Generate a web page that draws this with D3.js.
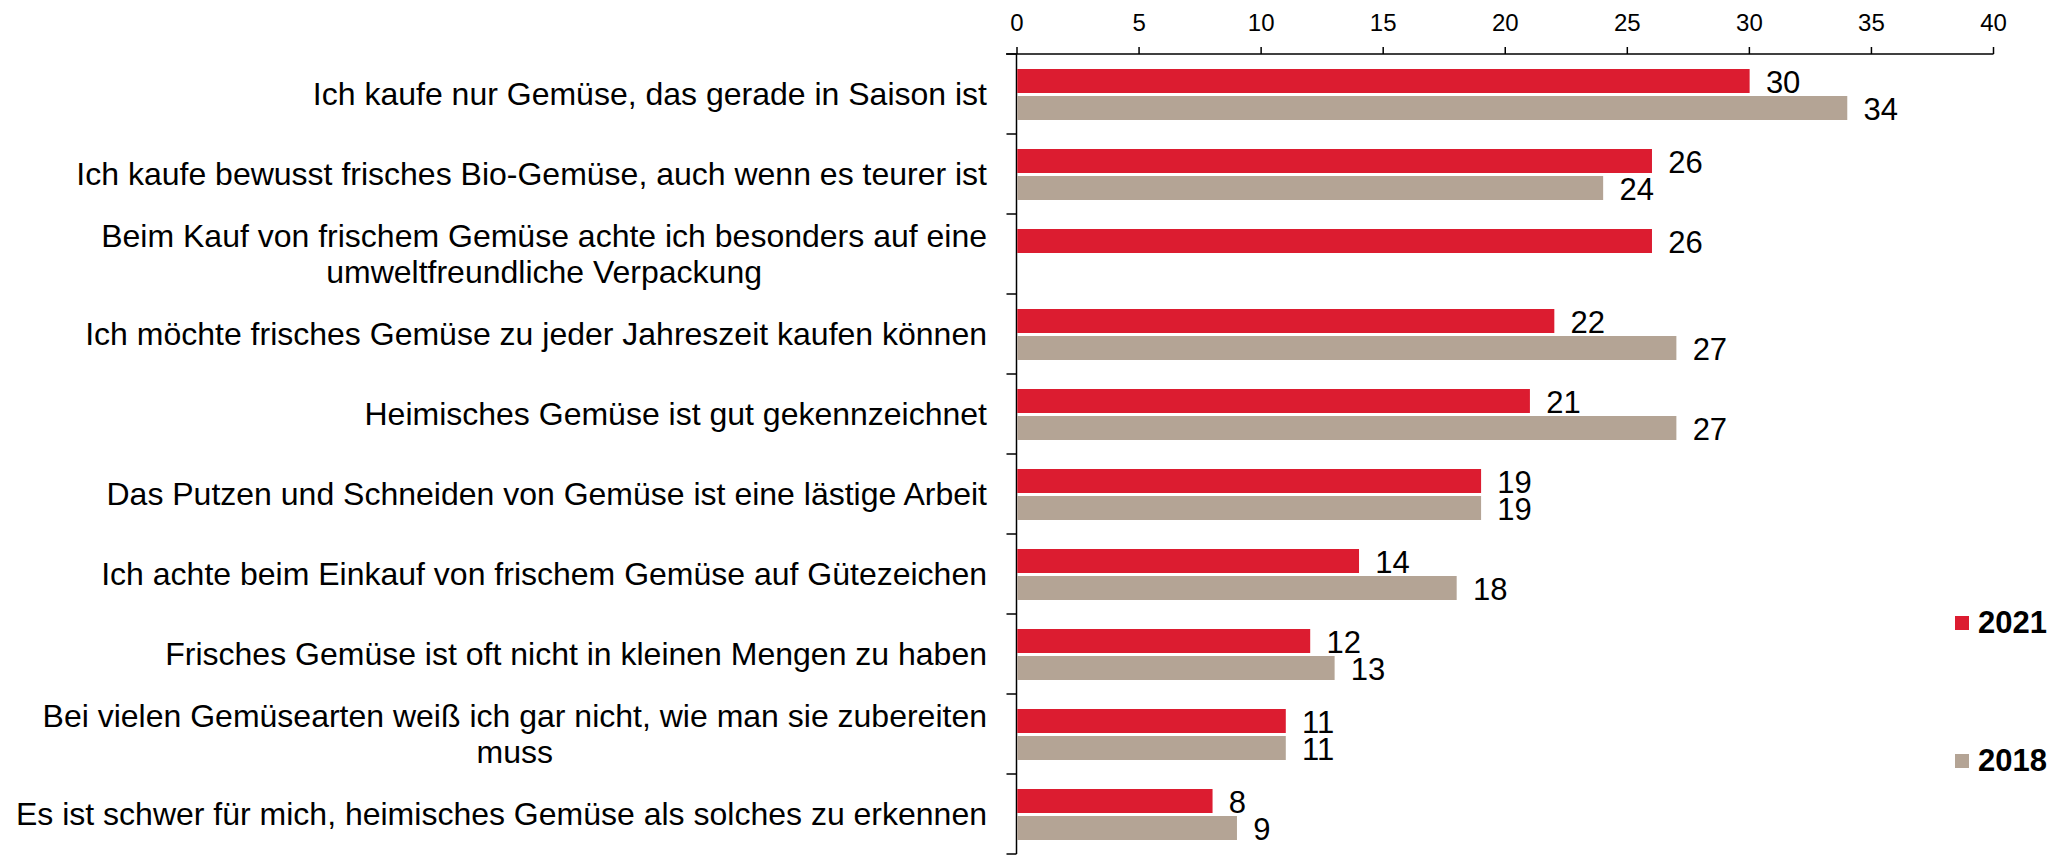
<!DOCTYPE html>
<html>
<head>
<meta charset="utf-8">
<script src="https://cdn.jsdelivr.net/npm/d3@7"></script>
<style>
  body { margin: 0; background: #fff; }
  svg { display: block; font-family: "Liberation Sans", Arial, sans-serif; }
</style>
</head>
<body>
<svg></svg>
<script>
const width = 2055;
const height = 856;

// data
const categories = [
    "Ich kaufe nur Gemüse, das gerade in Saison ist",
    "Ich kaufe bewusst frisches Bio-Gemüse, auch wenn es teurer ist",
    "Beim Kauf von frischem Gemüse achte ich besonders auf eine\numweltfreundliche Verpackung",
    "Ich möchte frisches Gemüse zu jeder Jahreszeit kaufen können",
    "Heimisches Gemüse ist gut gekennzeichnet",
    "Das Putzen und Schneiden von Gemüse ist eine lästige Arbeit",
    "Ich achte beim Einkauf von frischem Gemüse auf Gütezeichen",
    "Frisches Gemüse ist oft nicht in kleinen Mengen zu haben",
    "Bei vielen Gemüsearten weiß ich gar nicht, wie man sie zubereiten\nmuss",
    "Es ist schwer für mich, heimisches Gemüse als solches zu erkennen"
];
const values2021 = [30, 26, 26, 22, 21, 19, 14, 12, 11, 8];
const values2018 = [34, 24, null, 27, 27, 19, 18, 13, 11, 9];
const xTicks = [0, 5, 10, 15, 20, 25, 30, 35, 40];
const seriesNames = ["2021", "2018"];

const red = "#dc1c30";
const grey = "#b4a495";

const svg = d3.select("svg")
    .attr("width", width)
    .attr("height", height);

const x = d3.scaleLinear()
    .domain([0, 40])
    .range([1016.5, 1993]);

const y = d3.scaleBand()
    .domain(categories)
    .range([54, 854]);

const barH = 24;

// top axis
const xAxis_g = svg.append("g")
    .attr("transform", "translate(0,54)")
    .call(d3.axisTop(x).tickValues(xTicks).tickSize(7).tickPadding(16).tickSizeOuter(0));

xAxis_g.select(".domain").remove();
xAxis_g.append("line")
    .attr("x1", 1006).attr("x2", x(40) + 0.5)
    .attr("stroke", "#000").attr("stroke-width", 1.5);
xAxis_g.selectAll(".tick line").attr("stroke", "#000").attr("stroke-width", 1.5);
xAxis_g.selectAll(".tick text")
    .attr("fill", "#000")
    .style("font-size", "24px")
    .style("font-family", "'Liberation Sans', Arial, sans-serif");

// left axis line with ticks between categories
const yAxis_g = svg.append("g");
yAxis_g.append("line")
    .attr("x1", x(0)).attr("x2", x(0))
    .attr("y1", y.range()[0]).attr("y2", y.range()[1])
    .attr("stroke", "#000").attr("stroke-width", 1.5);
yAxis_g.selectAll(".ytick")
    .data(d3.range(categories.length + 1))
    .enter().append("line")
    .attr("class", "ytick")
    .attr("x1", x(0) - 10).attr("x2", x(0))
    .attr("y1", i => y.range()[0] + i * y.step())
    .attr("y2", i => y.range()[0] + i * y.step())
    .attr("stroke", "#000").attr("stroke-width", 1.5);

// bars
const rows = categories.map((c, i) => ({cat: c, v21: values2021[i], v18: values2018[i]}));

const bars_g = svg.append("g");

bars_g.selectAll(".bar21")
    .data(rows).enter()
    .append("rect").attr("class", "bar21")
    .attr("x", x(0) + 0.75)
    .attr("y", d => y(d.cat) + 15)
    .attr("width", d => x(d.v21) - x(0))
    .attr("height", barH)
    .attr("fill", red);

bars_g.selectAll(".bar18")
    .data(rows.filter(d => d.v18 != null)).enter()
    .append("rect").attr("class", "bar18")
    .attr("x", x(0) + 0.75)
    .attr("y", d => y(d.cat) + 42)
    .attr("width", d => x(d.v18) - x(0))
    .attr("height", barH)
    .attr("fill", grey);

// value labels
const labelStyle = sel => sel
    .style("font-size", "31px")
    .attr("fill", "#000");

bars_g.selectAll(".lab21")
    .data(rows).enter()
    .append("text").attr("class", "lab21")
    .attr("x", d => x(d.v21) + 17)
    .attr("y", d => y(d.cat) + 15 + barH)
    .text(d => d.v21)
    .call(labelStyle);

bars_g.selectAll(".lab18")
    .data(rows.filter(d => d.v18 != null)).enter()
    .append("text").attr("class", "lab18")
    .attr("x", d => x(d.v18) + 17)
    .attr("y", d => y(d.cat) + 42 + barH)
    .text(d => d.v18)
    .call(labelStyle);

// category labels, right aligned block, extra lines centred under the first
const labelRight = 987;
const lineGap = 36;
const cat_g = svg.append("g");

categories.forEach(c => {
    const lines = c.split("\n");
    const cy = y(c) + y.bandwidth() / 2;
    const t = cat_g.append("text")
        .style("font-size", "32px")
        .attr("fill", "#000");
    const spans = lines.map((ln, k) => t.append("tspan")
        .attr("y", cy + (k - (lines.length - 1) / 2) * lineGap)
        .attr("dy", "0.35em")
        .text(ln));
    if (lines.length === 1) {
        t.attr("text-anchor", "end");
        spans[0].attr("x", labelRight);
    } else {
        const w = d3.max(spans, s => s.node().getComputedTextLength());
        t.attr("text-anchor", "middle");
        spans.forEach(s => s.attr("x", labelRight - w / 2));
    }
});

// legend
const legend = [
    {name: seriesNames[0], color: red, y: 616},
    {name: seriesNames[1], color: grey, y: 754}
];
const legend_g = svg.append("g");
legend_g.selectAll("rect")
    .data(legend).enter()
    .append("rect")
    .attr("x", 1955).attr("y", d => d.y)
    .attr("width", 14).attr("height", 14)
    .attr("fill", d => d.color);
legend_g.selectAll("text")
    .data(legend).enter()
    .append("text")
    .attr("x", 1978).attr("y", d => d.y + 17)
    .style("font-size", "31px")
    .style("font-weight", "bold")
    .text(d => d.name);
</script>
</body>
</html>
